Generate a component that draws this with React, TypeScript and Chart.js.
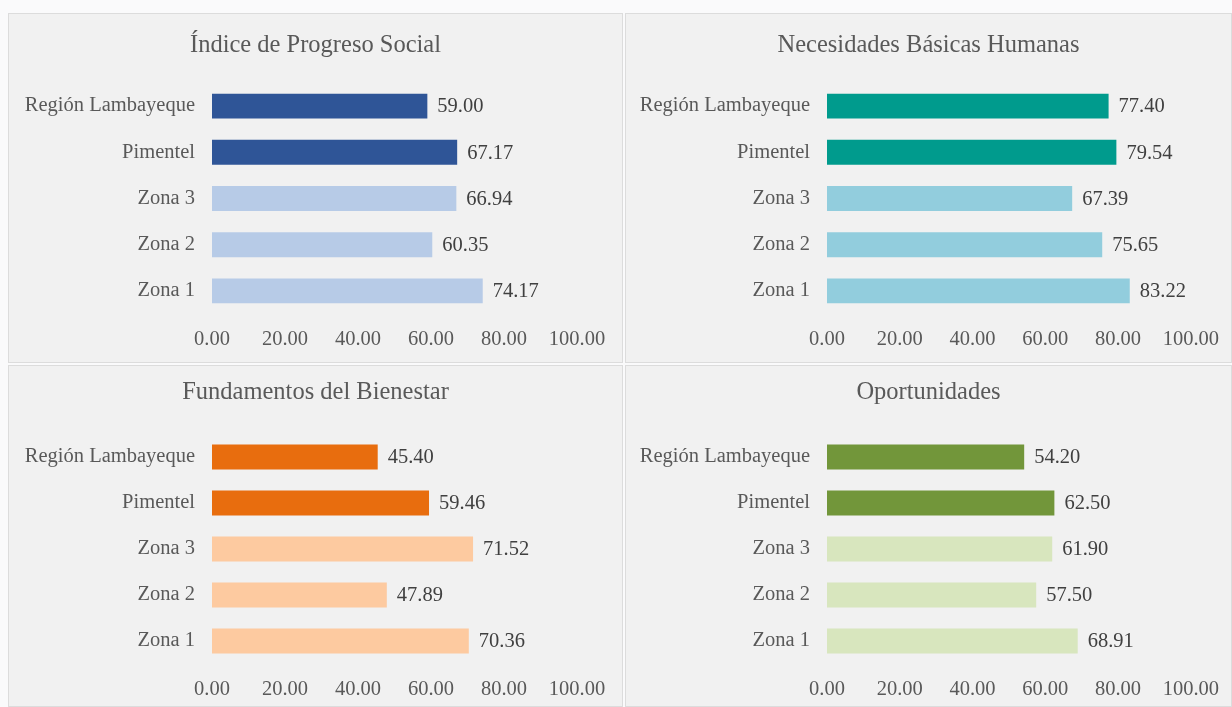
import { useEffect, useRef } from "react";
import { Chart, registerables } from "chart.js";

Chart.register(...registerables);

// ---------- data ----------
const categories = ["Región Lambayeque", "Pimentel", "Zona 3", "Zona 2", "Zona 1"];
const xTickValues = [0, 20, 40, 60, 80, 100];

const titleIPS = "Índice de Progreso Social";
const titleNBH = "Necesidades Básicas Humanas";
const titleFB = "Fundamentos del Bienestar";
const titleOP = "Oportunidades";

const valuesIPS = [59.0, 67.17, 66.94, 60.35, 74.17];
const valuesNBH = [77.4, 79.54, 67.39, 75.65, 83.22];
const valuesFB = [45.4, 59.46, 71.52, 47.89, 70.36];
const valuesOP = [54.2, 62.5, 61.9, 57.5, 68.91];

// ---------- styles ----------
const FONT = '"Liberation Serif", "Times New Roman", serif';
const TEXT = "#595959";

const colorsIPS = ["#2f5597", "#2f5597", "#b7cbe7", "#b7cbe7", "#b7cbe7"];
const colorsNBH = ["#009b8d", "#009b8d", "#92cddd", "#92cddd", "#92cddd"];
const colorsFB = ["#e86d0e", "#e86d0e", "#fdcaa0", "#fdcaa0", "#fdcaa0"];
const colorsOP = ["#72963a", "#72963a", "#d8e6be", "#d8e6be", "#d8e6be"];

type PanelDef = {
  title: string;
  values: number[];
  colors: string[];
  left: number;
  top: number;
  width: number;
  height: number;
  axisWidth: number;
  padRight: number;
  titleY: number;
  plotTop: number;
  xAxisHeight: number;
};

const panels: PanelDef[] = [
  { title: titleIPS, values: valuesIPS, colors: colorsIPS, left: 8, top: 13, width: 615, height: 350, axisWidth: 204, padRight: 46, titleY: 32.5, plotTop: 70, xAxisHeight: 49 },
  { title: titleNBH, values: valuesNBH, colors: colorsNBH, left: 625, top: 13, width: 607, height: 350, axisWidth: 202, padRight: 40, titleY: 32.5, plotTop: 70, xAxisHeight: 49 },
  { title: titleFB, values: valuesFB, colors: colorsFB, left: 8, top: 365, width: 615, height: 342, axisWidth: 204, padRight: 46, titleY: 28, plotTop: 69, xAxisHeight: 43 },
  { title: titleOP, values: valuesOP, colors: colorsOP, left: 625, top: 365, width: 607, height: 342, axisWidth: 202, padRight: 40, titleY: 28, plotTop: 69, xAxisHeight: 43 },
];

const valueLabels = {
  id: "valueLabels",
  afterDatasetsDraw(chart: any) {
    const { ctx } = chart;
    const meta = chart.getDatasetMeta(0);
    const data = chart.data.datasets[0].data as number[];
    ctx.save();
    ctx.font = `20.5px ${FONT}`;
    ctx.fillStyle = "#404040";
    ctx.textAlign = "left";
    ctx.textBaseline = "middle";
    meta.data.forEach((el: any, i: number) => {
      ctx.fillText(Number(data[i]).toFixed(2), el.x + 10, el.y + 1);
    });
    ctx.restore();
  },
};

const centeredTitle = {
  id: "centeredTitle",
  afterDraw(chart: any, _args: any, opts: any) {
    const { ctx } = chart;
    ctx.save();
    ctx.font = `24.5px ${FONT}`;
    ctx.fillStyle = TEXT;
    ctx.textAlign = "center";
    ctx.textBaseline = "middle";
    ctx.fillText(opts.text, chart.width / 2, opts.y);
    ctx.restore();
  },
};

function Panel({ def }: { def: PanelDef }) {
  const ref = useRef<HTMLCanvasElement | null>(null);
  useEffect(() => {
    if (!ref.current) return;
    const chart = new Chart(ref.current, {
      type: "bar",
      data: {
        labels: categories,
        datasets: [
          {
            data: def.values,
            backgroundColor: def.colors,
            borderWidth: 0,
            barPercentage: 0.54,
            categoryPercentage: 1,
          },
        ],
      },
      options: {
        indexAxis: "y",
        animation: false,
        responsive: true,
        maintainAspectRatio: false,
        layout: { padding: { left: 0, right: def.padRight, top: def.plotTop, bottom: 0 } },
        plugins: {
          legend: { display: false },
          tooltip: { enabled: false },
          title: { display: false },
          centeredTitle: { text: def.title, y: def.titleY },
        },
        scales: {
          x: {
            min: 0,
            max: 100,
            afterBuildTicks: (scale: any) => {
              scale.ticks = xTickValues.map((v) => ({ value: v }));
            },
            afterFit: (scale: any) => {
              scale.height = def.xAxisHeight;
            },
            grid: { display: false, drawTicks: false },
            border: { display: false },
            ticks: {
              color: TEXT,
              padding: 13,
              autoSkip: false,
              maxRotation: 0,
              font: { family: FONT, size: 20.5 },
              callback: (v: any) => Number(v).toFixed(2),
            },
          },
          y: {
            afterFit: (scale: any) => {
              scale.width = def.axisWidth;
            },
            grid: { display: false, drawTicks: false },
            border: { display: false },
            ticks: {
              color: TEXT,
              padding: 17,
              font: { family: FONT, size: 20.5 },
            },
          },
        },
      },
      plugins: [valueLabels, centeredTitle],
    } as any);
    return () => chart.destroy();
  }, [def]);

  return (
    <div
      style={{
        position: "absolute",
        left: def.left,
        top: def.top,
        width: def.width,
        height: def.height,
        background: "#f1f1f1",
        boxShadow: "inset 0 0 0 1px #dcdcdc",
      }}
    >
      <canvas ref={ref} />
    </div>
  );
}

export default function App() {
  return (
    <div
      style={{
        position: "fixed",
        left: 0,
        top: 0,
        width: 1232,
        height: 707,
        background: "#fafafb",
        overflow: "hidden",
      }}
    >
      {panels.map((p, i) => (
        <Panel key={i} def={p} />
      ))}
    </div>
  );
}
